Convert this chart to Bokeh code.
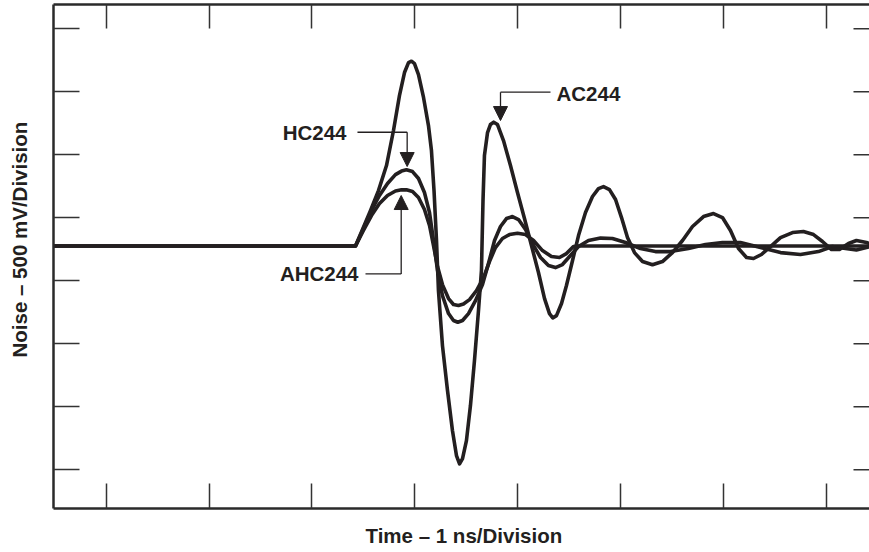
from bokeh.plotting import figure
from bokeh.models import (Range1d, FixedTicker, LinearAxis, Label, Arrow, Title,
                          NormalHead, CustomJSTickFormatter)
from bokeh.embed import file_html
from bokeh.resources import INLINE

# ---- data: time in ns (1 ns / division), noise in V (500 mV / division) ----
time_ac = [0.40, 3.423, 3.491, 3.569, 3.646, 3.724, 3.792, 3.850, 3.899, 3.938,
           3.967, 3.996, 4.035, 4.084, 4.132, 4.161, 4.186, 4.210, 4.229, 4.268,
           4.317, 4.365, 4.404, 4.434, 4.463, 4.501, 4.540, 4.579, 4.618, 4.647,
           4.662, 4.676, 4.706, 4.734, 4.766, 4.803, 4.861, 4.929, 4.997, 5.065,
           5.133, 5.201, 5.260, 5.308, 5.340, 5.376, 5.425, 5.473, 5.532, 5.590,
           5.658, 5.726, 5.784, 5.833, 5.891, 5.950, 6.008, 6.066, 6.134, 6.212,
           6.309, 6.406, 6.503, 6.601, 6.698, 6.805, 6.902, 6.989, 7.067, 7.145,
           7.223, 7.291, 7.368, 7.456, 7.553, 7.670, 7.776, 7.874, 7.961, 8.049,
           8.126, 8.214, 8.291, 8.389, 8.45]
noise_ac = [0.0, 0.0, 0.131, 0.282, 0.440, 0.639, 0.917, 1.194, 1.377, 1.456,
            1.467, 1.448, 1.361, 1.179, 0.956, 0.758, 0.440, 0.044, -0.353, -0.790,
            -1.147, -1.464, -1.663, -1.729, -1.687, -1.544, -1.266, -0.909, -0.512, -0.194,
            0.361, 0.718, 0.901, 0.964, 0.983, 0.964, 0.837, 0.639, 0.425, 0.218,
            0.004, -0.210, -0.417, -0.536, -0.570, -0.552, -0.456, -0.313, -0.115, 0.083,
            0.266, 0.393, 0.456, 0.472, 0.448, 0.369, 0.226, 0.067, -0.052, -0.123,
            -0.149, -0.123, -0.052, 0.044, 0.155, 0.234, 0.258, 0.226, 0.123, -0.020,
            -0.091, -0.099, -0.067, -0.004, 0.067, 0.107, 0.115, 0.091, 0.036, -0.028,
            -0.028, 0.020, 0.044, 0.028, 0.012]

time_hc = [0.40, 3.423, 3.500, 3.578, 3.656, 3.734, 3.811, 3.870, 3.918, 3.977,
           4.035, 4.093, 4.142, 4.181, 4.220, 4.268, 4.327, 4.375, 4.417, 4.463,
           4.521, 4.589, 4.657, 4.715, 4.774, 4.832, 4.890, 4.948, 5.007, 5.075,
           5.143, 5.221, 5.298, 5.366, 5.434, 5.512, 5.590, 5.687, 5.804, 5.920,
           6.047, 6.192, 6.338, 6.484, 6.659, 6.824, 6.989, 7.164, 7.359, 7.553,
           7.747, 7.922, 8.058, 8.185, 8.291, 8.389, 8.45]
noise_hc = [0.0, 0.0, 0.139, 0.282, 0.401, 0.496, 0.567, 0.595, 0.605, 0.591,
            0.536, 0.425, 0.266, 0.044, -0.194, -0.393, -0.536, -0.591, -0.605, -0.591,
            -0.536, -0.433, -0.306, -0.139, 0.044, 0.155, 0.218, 0.234, 0.210, 0.131,
            0.020, -0.091, -0.155, -0.171, -0.147, -0.075, -0.004, 0.044, 0.063, 0.060,
            0.028, -0.020, -0.044, -0.044, -0.020, 0.012, 0.028, 0.028, -0.012, -0.052,
            -0.067, -0.044, -0.004, -0.020, -0.032, -0.012, 0.0]

time_ahc = [0.40, 3.423, 3.500, 3.578, 3.656, 3.734, 3.811, 3.870, 3.918, 3.977,
            4.035, 4.093, 4.142, 4.181, 4.220, 4.268, 4.327, 4.375, 4.424, 4.472,
            4.531, 4.599, 4.667, 4.725, 4.783, 4.851, 4.919, 4.997, 5.075, 5.153,
            5.240, 5.327, 5.405, 5.473, 5.541, 5.590, 8.45]
noise_ahc = [0.0, 0.0, 0.123, 0.242, 0.337, 0.401, 0.437, 0.446, 0.446, 0.433,
             0.385, 0.290, 0.163, 0.004, -0.163, -0.306, -0.417, -0.464, -0.472, -0.460,
             -0.425, -0.353, -0.250, -0.123, -0.012, 0.060, 0.091, 0.102, 0.091, 0.044,
             -0.036, -0.083, -0.091, -0.060, -0.004, 0.0, 0.0]

x_ticks = [1, 2, 3, 4, 5, 6, 7, 8]
y_ticks = [1.724, 1.224, 0.724, 0.224, -0.276, -0.776, -1.276, -1.776]

INK = "#231f20"
FRAME = "#2a2a2a"
TICK = "#333333"
FONT = "Liberation Sans"
FS = "20.5px"

X_MIN, X_MAX = 0.488, 8.418

p = figure(width=869, height=552, output_backend="svg", toolbar_location=None,
           x_range=Range1d(X_MIN, X_MAX), y_range=Range1d(-2.083, 1.917),
           x_axis_location=None, y_axis_location=None,
           min_border_left=53, min_border_right=0, min_border_top=4,
           min_border_bottom=44)
p.outline_line_color = None
p.background_fill_color = "white"
p.border_fill_color = "white"
for g in p.grid:
    g.visible = False


def frame_axis(ticks, tick_in, spacer=0):
    ax = LinearAxis(ticker=FixedTicker(ticks=ticks, minor_ticks=[]),
                    formatter=CustomJSTickFormatter(code="return ''"),
                    major_tick_in=tick_in, major_tick_out=0,
                    minor_tick_in=0, minor_tick_out=0,
                    major_label_standoff=0, major_label_text_font_size="1px",
                    axis_line_color=FRAME, axis_line_width=2.5,
                    major_tick_line_color=TICK, major_tick_line_width=1.5)
    if spacer:
        ax.axis_label = " "
        ax.axis_label_text_font_size = "1px"
        ax.axis_label_standoff = spacer
    return ax


p.add_layout(frame_axis(x_ticks, 25, spacer=9), "below")
p.add_layout(frame_axis(x_ticks, 24), "above")
p.add_layout(frame_axis(y_ticks, 26, spacer=19), "left")

# inner ticks on the (cropped) right edge of the frame
p.segment(x0=[X_MAX - 16 / 102.9] * len(y_ticks), y0=y_ticks,
          x1=[X_MAX + 0.1] * len(y_ticks), y1=y_ticks,
          line_color=TICK, line_width=1.5)

p.add_layout(Title(text="Time – 1 ns/Division", align="left", offset=312, standoff=0,
                   text_font=FONT, text_font_style="bold", text_font_size=FS,
                   text_color=INK), "below")
p.add_layout(Title(text="Noise – 500 mV/Division", align="left", offset=151, standoff=0,
                   text_font=FONT, text_font_style="bold", text_font_size=FS,
                   text_color=INK), "left")

for tt, vv in [(time_ahc, noise_ahc), (time_hc, noise_hc), (time_ac, noise_ac)]:
    p.line(tt, vv, line_color=INK, line_width=3.6, line_join="round", line_cap="round")

# callouts: (text, label x, label y, align, leader start x, leader corner x, leader y, arrow tip y)
callouts = [
    ("HC244", 3.335, 0.903, "right", 3.442, 3.925, 0.903, 0.631),
    ("AC244", 5.376, 1.210, "left", 5.318, 4.832, 1.221, 0.996),
    ("AHC244", 3.452, -0.221, "right", 3.520, 3.867, -0.221, 0.401),
]
for text, lx, ly, align, x0, x1, yl, ytip in callouts:
    p.add_layout(Label(x=lx, y=ly, text=text, text_align=align, text_baseline="middle",
                       text_font=FONT, text_font_style="bold", text_font_size=FS,
                       text_color=INK))
    p.add_layout(Arrow(end=None, x_start=x0, y_start=yl, x_end=x1, y_end=yl,
                       line_color=INK, line_width=1.3))
    p.add_layout(Arrow(end=NormalHead(size=14, fill_color=INK, line_color=INK, line_width=1),
                       x_start=x1, y_start=yl, x_end=x1, y_end=ytip,
                       line_color=INK, line_width=1.3))

open("out.html", "w").write(file_html(p, INLINE))
